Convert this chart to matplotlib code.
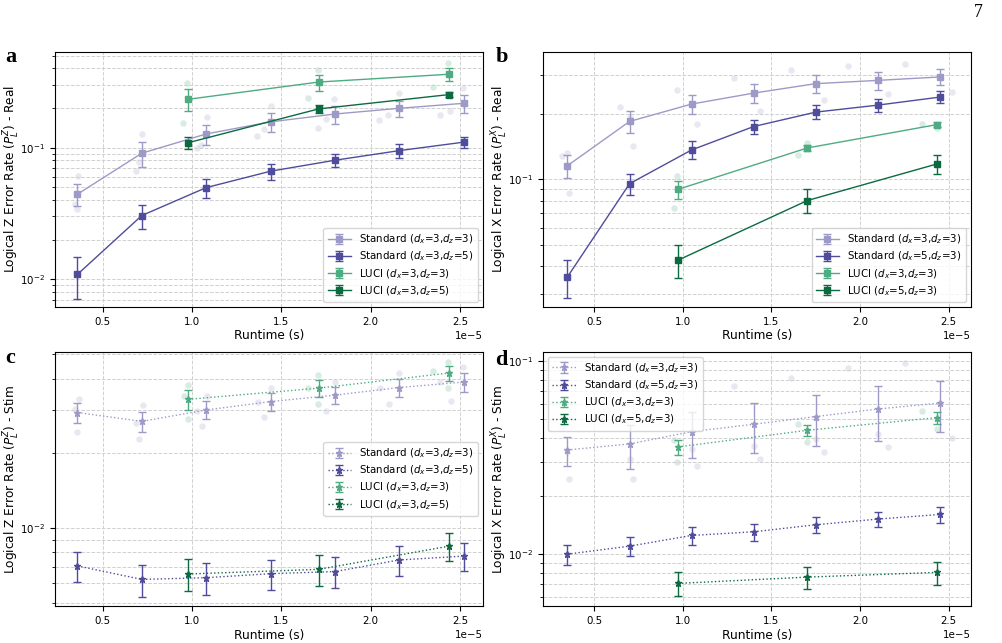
import matplotlib.pyplot as plt

# runtimes in units of 1e-5 s
x_std_a = [0.36, 0.72, 1.08, 1.44, 1.80, 2.16, 2.52]
x_std_b = [0.35, 0.70, 1.05, 1.40, 1.75, 2.10, 2.45]
x_luci_a = [0.98, 1.71, 2.44]
x_luci_b = [0.974, 1.703, 2.434]

# panel a: logical Z, real
a_std33 = [0.0443, 0.0907, 0.127, 0.157, 0.180, 0.199, 0.217]
a_std33_err = [0.0085, 0.019, 0.022, 0.026, 0.028, 0.028, 0.033]
a_std35 = [0.0109, 0.0305, 0.0497, 0.0662, 0.0802, 0.0949, 0.110]
a_std35_err = [0.0038, 0.0063, 0.008, 0.0092, 0.0095, 0.011, 0.011]
a_luci33 = [0.233, 0.315, 0.361]
a_luci33_err = [0.044, 0.044, 0.043]
a_luci35 = [0.109, 0.197, 0.253]
a_luci35_err = [0.011, 0.015, 0.012]
a_raw_std_x = [0.364, 0.345, 0.355, 0.723, 0.704, 0.686, 1.026, 1.05, 1.082, 1.366, 1.401, 1.44,
               1.708, 1.749, 1.797, 2.048, 2.098, 2.158, 2.387, 2.446, 2.517]
a_raw_std_y = [0.0612, 0.0373, 0.0343, 0.127, 0.0783, 0.0668, 0.100, 0.104, 0.170, 0.1227, 0.138, 0.207,
               0.140, 0.164, 0.234, 0.161, 0.176, 0.259, 0.176, 0.191, 0.286]
a_raw_luci_x = [0.951, 0.974, 1.649, 1.703, 2.346, 2.433]
a_raw_luci_y = [0.154, 0.308, 0.240, 0.389, 0.287, 0.437]

# panel b: logical X, real
b_std33 = [0.1155, 0.184, 0.221, 0.248, 0.274, 0.2836, 0.294]
b_std33_err = [0.014, 0.021, 0.022, 0.024, 0.025, 0.026, 0.025]
b_std53 = [0.0358, 0.0955, 0.1363, 0.1744, 0.203, 0.2185, 0.2378]
b_std53_err = [0.007, 0.0106, 0.0128, 0.0134, 0.015, 0.015, 0.015]
b_luci33 = [0.090, 0.1392, 0.178]
b_luci33_err = [0.0085, 0.005, 0.004]
b_luci53 = [0.0427, 0.080, 0.1176]
b_luci53_err = [0.0075, 0.010, 0.012]
b_raw_std_x = [0.321, 0.35, 0.361, 0.645, 0.70, 0.722, 0.966, 1.079, 1.288, 1.438, 1.611, 1.799,
               1.93, 2.16, 2.254, 2.519]
b_raw_std_y = [0.1284, 0.1316, 0.0862, 0.2148, 0.1924, 0.1427, 0.255, 0.18, 0.2906, 0.2044, 0.3162, 0.2304,
               0.331, 0.2454, 0.338, 0.2506]
b_raw_luci_x = [0.949, 0.97, 1.648, 1.703, 2.35, 2.434]
b_raw_luci_y = [0.0739, 0.1036, 0.1293, 0.1463, 0.1788, 0.1724]

# panel c: logical Z, stim
c_std33 = [0.0292, 0.0269, 0.0299, 0.0323, 0.0343, 0.0368, 0.0387]
c_std33_err = [0.0026, 0.0025, 0.0025, 0.0026, 0.0028, 0.003, 0.0034]
c_std35 = [0.00706, 0.00623, 0.00633, 0.00657, 0.0067, 0.00746, 0.00773]
c_std35_err = [0.001, 0.00092, 0.00092, 0.00092, 0.00095, 0.001, 0.001]
c_luci33 = [0.033, 0.0366, 0.0421]
c_luci33_err = [0.003, 0.0029, 0.003]
c_luci35 = [0.00655, 0.00684, 0.00848]
c_luci35_err = [0.00095, 0.00097, 0.0011]
c_raw_std_x = [0.366, 0.348, 0.357, 0.725, 0.688, 0.706, 1.028, 1.054, 1.084, 1.368, 1.403, 1.442,
               1.751, 1.80, 2.05, 2.10, 2.16, 2.39, 2.45, 2.519]
c_raw_std_y = [0.0330, 0.0302, 0.0244, 0.0314, 0.0265, 0.0228, 0.0295, 0.0258, 0.034, 0.0323, 0.0279, 0.0365,
               0.0295, 0.0389, 0.0366, 0.0316, 0.0421, 0.0389, 0.0324, 0.0444]
c_raw_luci_x = [0.954, 0.978, 0.976, 1.65, 1.704, 1.704, 2.35, 2.435, 2.43]
c_raw_luci_y = [0.034, 0.0377, 0.0274, 0.0368, 0.0413, 0.0315, 0.0429, 0.0468, 0.0367]

# panel d: logical X, stim
d_std33 = [0.0347, 0.0373, 0.0432, 0.0472, 0.0517, 0.0566, 0.0608]
d_std33_err = [0.006, 0.0097, 0.0116, 0.0137, 0.0154, 0.018, 0.018]
d_std53 = [0.0100, 0.0110, 0.0125, 0.01306, 0.0142, 0.0152, 0.01606]
d_std53_err = [0.0012, 0.0012, 0.0013, 0.0013, 0.0014, 0.0014, 0.0015]
d_luci33 = [0.0360, 0.0439, 0.0511]
d_luci33_err = [0.0032, 0.003, 0.0035]
d_luci53 = [0.00705, 0.0076, 0.00804]
d_luci53_err = [0.001, 0.001, 0.0011]
d_raw_std_x = [0.321, 0.35, 0.361, 0.70, 0.722, 1.05, 1.079, 1.288, 1.40, 1.438, 1.611, 1.75, 1.799,
               1.93, 2.10, 2.16, 2.254, 2.519]
d_raw_std_y = [0.0457, 0.0338, 0.0245, 0.031, 0.0245, 0.035, 0.0286, 0.0745, 0.0363, 0.0312, 0.082, 0.0398, 0.0337,
               0.0924, 0.042, 0.0358, 0.0977, 0.0402]
d_raw_luci_x = [0.949, 0.97, 1.648, 1.703, 2.35, 2.434]
d_raw_luci_y = [0.039, 0.0302, 0.0475, 0.0384, 0.0555, 0.0448]

c_light_p = '#9e9ac8'
c_dark_p = '#4f4c9b'
c_light_g = '#4fab82'
c_dark_g = '#0b6a40'


def sec(xs):
    return [v * 1e-5 for v in xs]


def draw(ax, xs, xl, series, labels, raw, ls, marker, ylabel):
    (s1, e1), (s2, e2), (l1, le1), (l2, le2) = series
    ax.scatter(sec(raw[0]), raw[1], color=c_light_p, alpha=0.22, s=22, lw=0)
    ax.scatter(sec(raw[2]), raw[3], color=c_light_g, alpha=0.22, s=22, lw=0)
    ms = 4 if marker == 's' else 5
    ax.errorbar(sec(xs), s1, yerr=e1, color=c_light_p, ls=ls, marker=marker, ms=ms,
                capsize=2.8, lw=1.0, label=labels[0])
    ax.errorbar(sec(xs), s2, yerr=e2, color=c_dark_p, ls=ls, marker=marker, ms=ms,
                capsize=2.8, lw=1.0, label=labels[1])
    ax.errorbar(sec(xl), l1, yerr=le1, color=c_light_g, ls=ls, marker=marker, ms=ms,
                capsize=2.8, lw=1.0, label=labels[2])
    ax.errorbar(sec(xl), l2, yerr=le2, color=c_dark_g, ls=ls, marker=marker, ms=ms,
                capsize=2.8, lw=1.0, label=labels[3])
    ax.set_yscale('log')
    ax.grid(True, which='both', ls='--', color='#d0d0d0', lw=0.7)
    ax.set_xlabel('Runtime (s)', fontsize=8.7, labelpad=2)
    ax.set_ylabel(ylabel, fontsize=8.7)
    ax.yaxis.set_label_coords(-0.078, 0.5)
    ax.tick_params(labelsize=7.4)
    ax.xaxis.get_offset_text().set_fontsize(7.4)


lab_z = ['Standard ($d_x$=3,$d_z$=3)', 'Standard ($d_x$=3,$d_z$=5)',
         'LUCI ($d_x$=3,$d_z$=3)', 'LUCI ($d_x$=3,$d_z$=5)']
lab_x = ['Standard ($d_x$=3,$d_z$=3)', 'Standard ($d_x$=5,$d_z$=3)',
         'LUCI ($d_x$=3,$d_z$=3)', 'LUCI ($d_x$=5,$d_z$=3)']
leg_kw = dict(fontsize=7.4, handlelength=2.3, labelspacing=0.35)

fig = plt.figure(figsize=(10.03, 6.43), dpi=100)
ax_a = fig.add_axes([0.0548, 0.5226, 0.4267, 0.3966])
ax_b = fig.add_axes([0.5414, 0.5226, 0.4267, 0.3966])
ax_c = fig.add_axes([0.0548, 0.0575, 0.4267, 0.3950])
ax_d = fig.add_axes([0.5414, 0.0575, 0.4267, 0.3950])

draw(ax_a, x_std_a, x_luci_a,
     [(a_std33, a_std33_err), (a_std35, a_std35_err), (a_luci33, a_luci33_err), (a_luci35, a_luci35_err)],
     lab_z, (a_raw_std_x, a_raw_std_y, a_raw_luci_x, a_raw_luci_y), '-', 's',
     'Logical Z Error Rate ($P_L^Z$) - Real')
ax_a.set_ylim(0.00616, 0.533)
ax_a.legend(loc='lower right', **leg_kw)

draw(ax_b, x_std_b, x_luci_b,
     [(b_std33, b_std33_err), (b_std53, b_std53_err), (b_luci33, b_luci33_err), (b_luci53, b_luci53_err)],
     lab_x, (b_raw_std_x, b_raw_std_y, b_raw_luci_x, b_raw_luci_y), '-', 's',
     'Logical X Error Rate ($P_L^X$) - Real')
ax_b.set_ylim(0.02607, 0.3826)
ax_b.legend(loc='lower right', **leg_kw)

draw(ax_c, x_std_a, x_luci_a,
     [(c_std33, c_std33_err), (c_std35, c_std35_err), (c_luci33, c_luci33_err), (c_luci35, c_luci35_err)],
     lab_z, (c_raw_std_x, c_raw_std_y, c_raw_luci_x, c_raw_luci_y), ':', '*',
     'Logical Z Error Rate ($P_L^Z$) - Stim')
ax_c.set_ylim(0.00487, 0.0511)
ax_c.legend(loc='center right', **leg_kw)

draw(ax_d, x_std_b, x_luci_b,
     [(d_std33, d_std33_err), (d_std53, d_std53_err), (d_luci33, d_luci33_err), (d_luci53, d_luci53_err)],
     lab_x, (d_raw_std_x, d_raw_std_y, d_raw_luci_x, d_raw_luci_y), ':', '*',
     'Logical X Error Rate ($P_L^X$) - Stim')
ax_d.set_ylim(0.00538, 0.1118)
ax_d.legend(loc='upper left', **leg_kw)

for ax in (ax_a, ax_c):
    ax.set_xlim(0.234e-5, 2.628e-5)
for ax in (ax_b, ax_d):
    ax.set_xlim(0.212e-5, 2.626e-5)

for txt, x, y in [('a', 0.005, 0.911), ('b', 0.494, 0.911), ('c', 0.005, 0.444), ('d', 0.494, 0.440)]:
    fig.text(x, y, txt, fontsize=16, fontweight='bold', family='Liberation Serif', va='center')
fig.text(0.975, 0.981, '7', fontsize=13, family='Liberation Serif', ha='center', va='center')

fig.savefig('out.png', dpi=100)
